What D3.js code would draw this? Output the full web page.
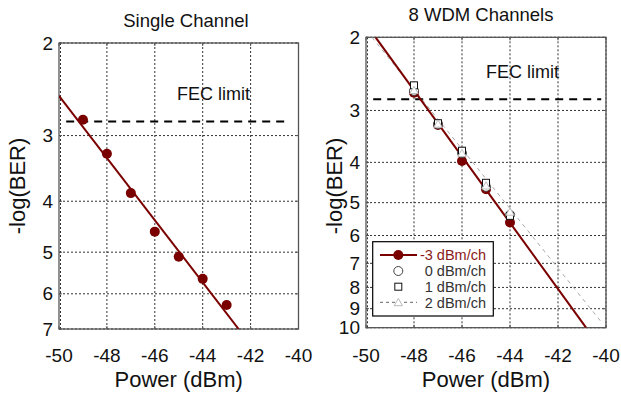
<!DOCTYPE html>
<html><head><meta charset="utf-8">
<script src="https://cdn.jsdelivr.net/npm/d3@7"></script>
<style>
html,body{margin:0;padding:0;background:#fff;}
svg text{font-family:"Liberation Sans",Arial,Helvetica,sans-serif;}
</style></head>
<body>
<svg id="chart" width="621" height="398"></svg>
<script>
// ---------- data ----------
const xTicks = [-50, -48, -46, -44, -42, -40];
const yTicksLeft = [2, 3, 4, 5, 6, 7];
const yTicksRight = [2, 3, 4, 5, 6, 7, 8, 9, 10];
const fecLimit = 2.82;

// Single channel
const singlePower = [-49, -48, -47, -46, -45, -44, -43];
const singleBER = [2.80, 3.25, 3.86, 4.57, 5.10, 5.62, 6.30];
const singleFitPower = [-50, -42.5];
const singleFitBER = [2.52, 7.0];

// 8 WDM channels
const wdmPower = [-48, -47, -46, -45, -44];
const wdmM3 = [2.72, 3.25, 3.97, 4.64, 5.58];   // -3 dBm/ch
const wdm0 = [2.69, 3.24, 3.80, 4.58, 5.35];    // 0 dBm/ch
const wdm1 = [2.61, 3.22, 3.75, 4.48, 5.38];    // 1 dBm/ch
const wdm2 = [2.68, 3.23, 3.80, 4.55, 5.26];    // 2 dBm/ch
const wdmFitM3Power = [-49.6, -40.83];
const wdmFitM3BER = [2.0, 10.0];
const wdmFit2Power = [-49.75, -40.15];
const wdmFit2BER = [2.0, 9.76];

const legendLabels = ["-3 dBm/ch", "0 dBm/ch", "1 dBm/ch", "2 dBm/ch"];

// ---------- drawing ----------
const svg = d3.select("#chart");
const RED = "#7a0000";

function panel(opt) {
  const x = d3.scaleLinear().domain([-50, -40]).range([opt.x0, opt.x1]);
  const y = d3.scaleLog().domain(opt.yDomain).range([opt.y0, opt.y1]);
  const g = svg.append("g");
  const clipId = "clip" + opt.id;
  svg.append("clipPath").attr("id", clipId).append("rect")
    .attr("x", opt.x0).attr("y", opt.y0).attr("width", opt.x1 - opt.x0).attr("height", opt.y1 - opt.y0);

  // grid
  g.selectAll(".vg").data(xTicks).enter().append("line")
    .attr("x1", d => x(d) + (d === -50 ? 1.5 : 0)).attr("x2", d => x(d) + (d === -50 ? 1.5 : 0))
    .attr("y1", opt.y0).attr("y2", opt.y1)
    .attr("stroke", "#333").attr("stroke-width", 1).attr("stroke-dasharray", "2,2");
  g.selectAll(".hg").data(opt.yTicks).enter().append("line")
    .attr("x1", opt.x0).attr("x2", opt.x1).attr("y1", d => y(d)).attr("y2", d => y(d))
    .attr("stroke", "#333").attr("stroke-width", 1).attr("stroke-dasharray", "2,2");

  // frame
  g.append("rect").attr("x", opt.x0).attr("y", opt.y0)
    .attr("width", opt.x1 - opt.x0).attr("height", opt.y1 - opt.y0)
    .attr("fill", "none").attr("stroke", "#555").attr("stroke-width", 1.3);
  // inward ticks
  opt.yTicks.forEach(t => {
    g.append("line").attr("x1", opt.x0).attr("x2", opt.x0 + 3).attr("y1", y(t)).attr("y2", y(t)).attr("stroke", "#555");
    g.append("line").attr("x1", opt.x1).attr("x2", opt.x1 - 3).attr("y1", y(t)).attr("y2", y(t)).attr("stroke", "#555");
  });
  xTicks.forEach(t => {
    g.append("line").attr("y1", opt.y1).attr("y2", opt.y1 - 3).attr("x1", x(t)).attr("x2", x(t)).attr("stroke", "#555");
    g.append("line").attr("y1", opt.y0).attr("y2", opt.y0 + 3).attr("x1", x(t)).attr("x2", x(t)).attr("stroke", "#555");
  });

  // tick labels
  g.selectAll(".xl").data(xTicks).enter().append("text")
    .attr("x", d => x(d)).attr("y", 362).attr("text-anchor", "middle")
    .attr("font-size", 19).attr("fill", "#111").text(d => d);
  g.selectAll(".yl").data(opt.yTicks).enter().append("text")
    .attr("x", opt.x0 - 6).attr("y", d => y(d) + 6.6).attr("text-anchor", "end")
    .attr("font-size", 19).attr("fill", "#111").text(d => d);

  // axis labels
  g.append("text").attr("x", (opt.x0 + opt.x1) / 2).attr("y", 387).attr("text-anchor", "middle")
    .attr("font-size", 22).attr("fill", "#111").text("Power (dBm)");
  g.append("text").attr("transform", `translate(${opt.yLabelX},${opt.yLabelY}) rotate(-90)`)
    .attr("text-anchor", "middle").attr("font-size", 22).attr("fill", "#111").text("-log(BER)");
  g.append("text").attr("x", opt.titleX).attr("y", opt.titleY).attr("text-anchor", "middle")
    .attr("font-size", 18.5).attr("fill", "#111").text(opt.title);

  // FEC line + label
  g.append("line").attr("x1", x(opt.fecFrom)).attr("x2", x(opt.fecTo))
    .attr("y1", y(fecLimit)).attr("y2", y(fecLimit))
    .attr("stroke", "#000").attr("stroke-width", 2).attr("stroke-dasharray", "8,6");
  g.append("text").attr("x", opt.fecTextX).attr("y", y(fecLimit) - 21).attr("font-size", 18)
    .attr("fill", "#111").text("FEC limit");

  return {x, y, g, clip: `url(#${clipId})`};
}

function linePath(xs, ys, P) {
  return d3.line().x(d => P.x(d[0])).y(d => P.y(d[1]))(xs.map((v, i) => [v, ys[i]]));
}

// ---- left panel ----
const L = panel({id: "L", x0: 59, x1: 298.5, y0: 43, y1: 329, yDomain: [2, 7], yTicks: yTicksLeft,
  yLabelX: 25, yLabelY: 186, title: "Single Channel", titleX: 186, titleY: 27,
  fecFrom: -49.7, fecTo: -40.4, fecTextX: 177});
L.g.append("path").attr("d", linePath(singleFitPower, singleFitBER, L))
  .attr("fill", "none").attr("stroke", RED).attr("stroke-width", 2).attr("clip-path", L.clip);
L.g.selectAll(".pt").data(singlePower).enter().append("circle")
  .attr("cx", d => L.x(d)).attr("cy", (d, i) => L.y(singleBER[i])).attr("r", 5).attr("fill", RED);

// ---- right panel ----
const R = panel({id: "R", x0: 366, x1: 606, y0: 37.3, y1: 327.7, yDomain: [2, 10], yTicks: yTicksRight,
  yLabelX: 342, yLabelY: 186, title: "8 WDM Channels", titleX: 481, titleY: 21,
  fecFrom: -49.7, fecTo: -40.2, fecTextX: 486});
R.g.append("path").attr("d", linePath(wdmFit2Power, wdmFit2BER, R))
  .attr("fill", "none").attr("stroke", "#aaa").attr("stroke-width", 1).attr("stroke-dasharray", "4,4")
  .attr("clip-path", R.clip);
R.g.append("path").attr("d", linePath(wdmFitM3Power, wdmFitM3BER, R))
  .attr("fill", "none").attr("stroke", RED).attr("stroke-width", 2).attr("clip-path", R.clip);

const tri = d3.symbol().type(d3.symbolTriangle).size(30);
function drawMarkers(sel, P, xs, ys, kind, cx, cy) {
  xs.forEach((v, i) => {
    const px = cx !== undefined ? cx : P.x(v), py = cy !== undefined ? cy : P.y(ys[i]);
    if (kind === "filled") sel.append("circle").attr("cx", px).attr("cy", py).attr("r", 5).attr("fill", RED);
    if (kind === "open") sel.append("circle").attr("cx", px).attr("cy", py).attr("r", 4.5)
      .attr("fill", "#fff").attr("stroke", "#444").attr("stroke-width", 1);
    if (kind === "square") sel.append("rect").attr("x", px - 3.5).attr("y", py - 3.5).attr("width", 7).attr("height", 7)
      .attr("fill", "#fff").attr("stroke", "#111").attr("stroke-width", 1);
    if (kind === "tri") sel.append("path").attr("d", tri).attr("transform", `translate(${px},${py + 1})`)
      .attr("fill", "#fff").attr("stroke", "#bbb").attr("stroke-width", 1);
  });
}
drawMarkers(R.g, R, wdmPower, wdmM3, "filled");
drawMarkers(R.g, R, wdmPower, wdm0, "open");
drawMarkers(R.g, R, wdmPower, wdm1, "square");
drawMarkers(R.g, R, wdmPower, wdm2, "tri");

// legend
const lg = R.g.append("g");
lg.append("rect").attr("x", 372.7).attr("y", 241.7).attr("width", 120.6).attr("height", 74.3)
  .attr("fill", "#fff").attr("stroke", "#000").attr("stroke-width", 1.2);
const rows = [255, 271, 286.7, 302.3];
const kinds = ["filled", "open", "square", "tri"];
lg.append("line").attr("x1", 380).attr("x2", 417).attr("y1", rows[0]).attr("y2", rows[0])
  .attr("stroke", RED).attr("stroke-width", 2);
lg.append("line").attr("x1", 380).attr("x2", 417).attr("y1", rows[3]).attr("y2", rows[3])
  .attr("stroke", "#666").attr("stroke-width", 1).attr("stroke-dasharray", "3,3");
kinds.forEach((k, i) => drawMarkers(lg, R, [0], [0], k, 398.3, rows[i]));
legendLabels.forEach((t, i) => {
  lg.append("text").attr("x", 486).attr("y", rows[i] + 5.3).attr("text-anchor", "end")
    .attr("font-size", 14.5).attr("fill", i === 0 ? "#8b1a1a" : "#333").text(t);
});
</script>
</body></html>
